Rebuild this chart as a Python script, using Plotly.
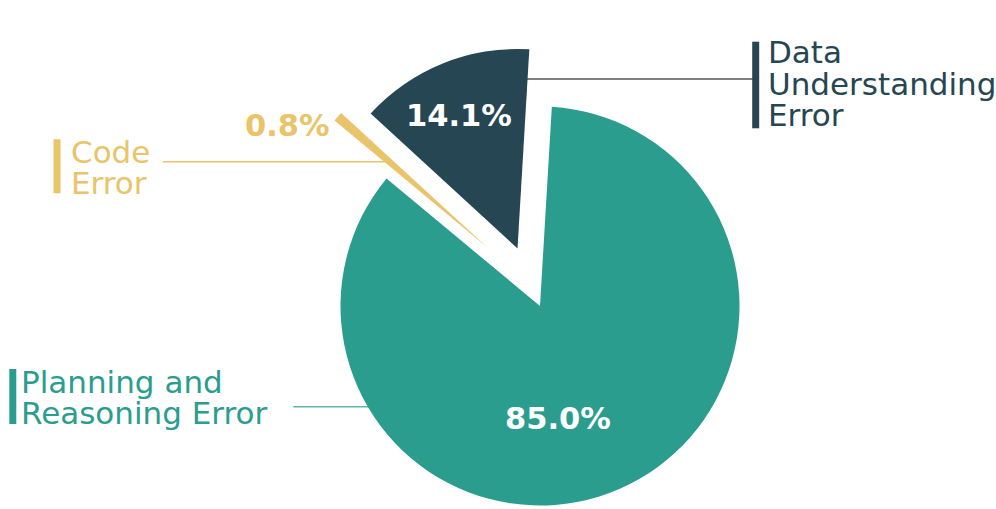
import plotly.graph_objects as go

# ---------------- data ----------------
categories = ["Planning and Reasoning Error", "Data Understanding Error", "Code Error"]
shares = [85.0, 14.1, 0.8]
pct_labels = ["85.0%", "14.1%", "0.8%"]
label_lines = [["Planning and", "Reasoning Error"],
               ["Data", "Understanding", "Error"],
               ["Code", "Error"]]

# ---------------- style / layout ----------------
colors = ["#2a9d8f", "#264653", "#e9c46a"]
pct_colors = ["white", "white", "#e9c46a"]
leader_colors = ["rgba(42,157,143,0.75)", "#555555", "#e9c46a"]
TRANSPARENT = "rgba(0,0,0,0)"
FONT = "DejaVu Sans"

W, H = 996, 509
R = 199.5            # pie radius in px
ROTATION = 3.4       # start angle (deg, clockwise from 12 o'clock)
# centre of each (exploded) slice, px
centres = [(540, 306), (517.5, 248.5), (488, 248)]
# percentage label centres, px
pct_pos = [(557.5, 418), (458.8, 115), (287, 125)]
# category label layout: text x, first line centre y, bar x, bar y0, bar y1, leader x0, x1, y
label_layout = [
    dict(tx=19.2, ty=381.6, bx=12.8, by0=369, by1=424, lx0=293.3, lx1=380, ly=406.7),
    dict(tx=765.8, ty=52.5, bx=755.7, by0=41.7, by1=128.3, lx0=515, lx1=753, ly=79),
    dict(tx=69, ty=152, bx=57, by0=139.3, by1=193.3, lx0=162.7, lx1=392, ly=161.7),
]
LINE_GAP = 31
LABEL_SIZE = 31
PCT_SIZE = 30.5


def px(x):
    return x / W


def py(y):
    return 1 - y / H


fig = go.Figure()
for i, (cx, cy) in enumerate(centres):
    fig.add_trace(go.Pie(
        labels=categories,
        values=shares,
        sort=False,
        direction="counterclockwise",
        rotation=ROTATION,
        marker=dict(colors=[colors[j] if j == i else TRANSPARENT for j in range(len(shares))],
                    line=dict(width=0)),
        textinfo="none",
        hoverinfo="skip",
        showlegend=False,
        domain=dict(x=[px(cx - R), px(cx + R)], y=[py(cy + R), py(cy - R)]),
    ))

annotations = []
shapes = []
for i, (x, y) in enumerate(pct_pos):
    annotations.append(dict(
        x=px(x), y=py(y), xref="paper", yref="paper", showarrow=False,
        xanchor="center", yanchor="middle", text=pct_labels[i],
        font=dict(family=FONT, size=PCT_SIZE, color=pct_colors[i], weight="bold"),
    ))

for i, lay in enumerate(label_layout):
    for k, line in enumerate(label_lines[i]):
        annotations.append(dict(
            x=px(lay["tx"]), y=py(lay["ty"] + k * LINE_GAP), xref="paper", yref="paper",
            showarrow=False, xanchor="left", yanchor="middle", text=line,
            font=dict(family=FONT, size=LABEL_SIZE, color=colors[i]),
        ))
    shapes.append(dict(
        type="rect", xref="paper", yref="paper",
        x0=px(lay["bx"] - 3.5), x1=px(lay["bx"] + 3.5),
        y0=py(lay["by1"]), y1=py(lay["by0"]),
        fillcolor=colors[i], line=dict(width=0), layer="above",
    ))
    shapes.append(dict(
        type="line", xref="paper", yref="paper",
        x0=px(lay["lx0"]), x1=px(lay["lx1"]), y0=py(lay["ly"]), y1=py(lay["ly"]),
        line=dict(color=leader_colors[i], width=1.5), layer="below",
    ))

fig.update_layout(
    width=W, height=H,
    margin=dict(l=0, r=0, t=0, b=0),
    paper_bgcolor="white", plot_bgcolor="white",
    showlegend=False,
    annotations=annotations,
    shapes=shapes,
)

fig.write_html(
    "out.html",
    config={"displayModeBar": False},
    post_script="document.body.style.margin='0';document.body.style.overflow='hidden';",
)
